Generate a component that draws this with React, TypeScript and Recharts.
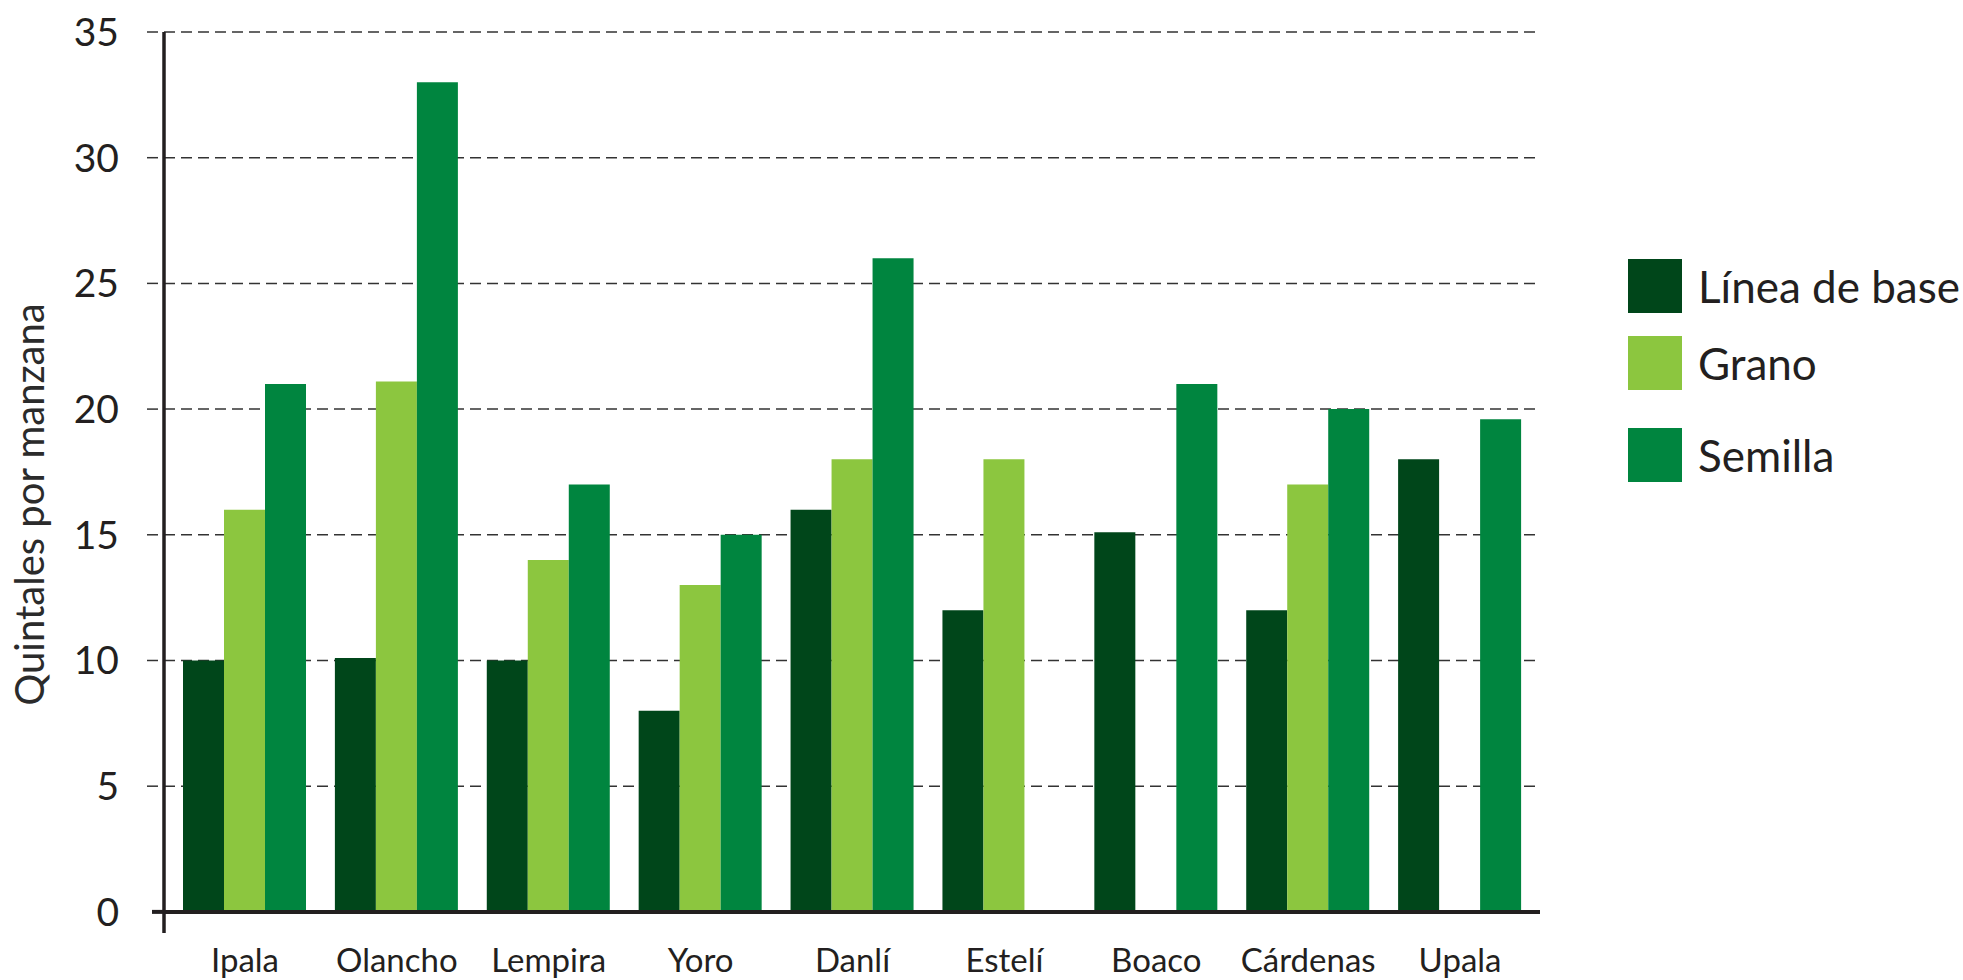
import React from 'react';
import { Bar, BarChart, CartesianGrid, ReferenceLine, XAxis, YAxis } from 'recharts';

const categories = ['Ipala', 'Olancho', 'Lempira', 'Yoro', 'Danlí', 'Estelí', 'Boaco', 'Cárdenas', 'Upala'];
const lineaBase = [10, 10.1, 10, 8, 16, 12, 15.1, 12, 18];
const grano = [16, 21.1, 14, 13, 18, 18, null, 17, null];
const semilla = [21, 33, 17, 15, 26, null, 21, 20, 19.6];
const yTicks = [0, 5, 10, 15, 20, 25, 30, 35];

const series = [
    { key: 'lineaBase', name: 'Línea de base', color: '#00461A' },
    { key: 'grano', name: 'Grano', color: '#8CC63F' },
    { key: 'semilla', name: 'Semilla', color: '#00853F' },
];

const chartData = categories.map((name, i) => ({
    name,
    lineaBase: lineaBase[i],
    grano: grano[i],
    semilla: semilla[i],
}));

const FONT = 'Lato, "Open Sans", sans-serif';
const INK = '#231f20';

// y tick: label plus its own tick line (the 0 tick continues the thick x axis)
function YTick(props: any) {
    const { x, y, payload } = props;
    const axisX = x + 45;
    return (
        <g>
            {payload.value === 0 ? (
                <line x1={axisX - 12} x2={axisX} y1={y} y2={y} stroke={INK} strokeWidth={4} />
            ) : (
                <line x1={axisX - 17} x2={axisX} y1={y} y2={y} stroke='#333' strokeWidth={1.5} strokeDasharray='11 6' />
            )}
            <text x={x} y={y} dy='0.355em' textAnchor='end' fontSize={39} fill={INK} fontFamily={FONT}>
                {payload.value}
            </text>
        </g>
    );
}

function YLabel(props: any) {
    const { viewBox } = props;
    const cx = viewBox.x + 29;
    const cy = viewBox.y + viewBox.height / 2 + 22;
    return (
        <text
            x={cx}
            y={cy}
            transform={`rotate(-90 ${cx} ${cy})`}
            textAnchor='middle'
            dominantBaseline='central'
            fontSize={40}
            fill='#2b2b2b'
            fontFamily={FONT}
        >
            Quintales por manzana
        </text>
    );
}

const rowGaps = [0, 23, 38];

function App() {
    return (
        <div style={{ position: 'absolute', left: 0, top: 0, width: 1963, height: 980, background: '#fff', fontFamily: FONT }}>
            <BarChart
                width={1963}
                height={980}
                data={chartData}
                margin={{ top: 32, right: 423, left: 0, bottom: 0 }}
                barCategoryGap={14}
                barGap={0}
            >
                <CartesianGrid
                    vertical={false}
                    horizontalValues={yTicks.filter((v) => v > 0)}
                    stroke='#333'
                    strokeWidth={1.5}
                    strokeDasharray='11 6'
                />
                <XAxis
                    dataKey='name'
                    height={47}
                    axisLine={false}
                    tickLine={false}
                    tickSize={0}
                    tickMargin={16}
                    padding={{ left: 5, right: 4 }}
                    interval={0}
                    tick={{ fontSize: 33, fill: INK, fontFamily: FONT }}
                />
                <YAxis
                    width={164}
                    domain={[-0.84, 35]}
                    ticks={yTicks}
                    tickLine={false}
                    tickSize={17}
                    tickMargin={28}
                    axisLine={{ stroke: INK, strokeWidth: 3.5 }}
                    tick={<YTick />}
                    label={<YLabel />}
                />
                {series.map((s) => (
                    <Bar key={s.key} dataKey={s.key} name={s.name} fill={s.color} isAnimationActive={false} />
                ))}
                <ReferenceLine y={0} stroke={INK} strokeWidth={4} />
            </BarChart>
            <div style={{ position: 'absolute', left: 1628, top: 259 }}>
                {series.map((s, i) => (
                    <div key={s.key} style={{ display: 'flex', alignItems: 'center', height: 54, marginTop: rowGaps[i] }}>
                        <div style={{ width: 54, height: 54, background: s.color }} />
                        <span style={{ marginLeft: 16, fontSize: 44, color: INK, lineHeight: '54px', whiteSpace: 'nowrap' }}>
                            {s.name}
                        </span>
                    </div>
                ))}
            </div>
        </div>
    );
}

export default App;
